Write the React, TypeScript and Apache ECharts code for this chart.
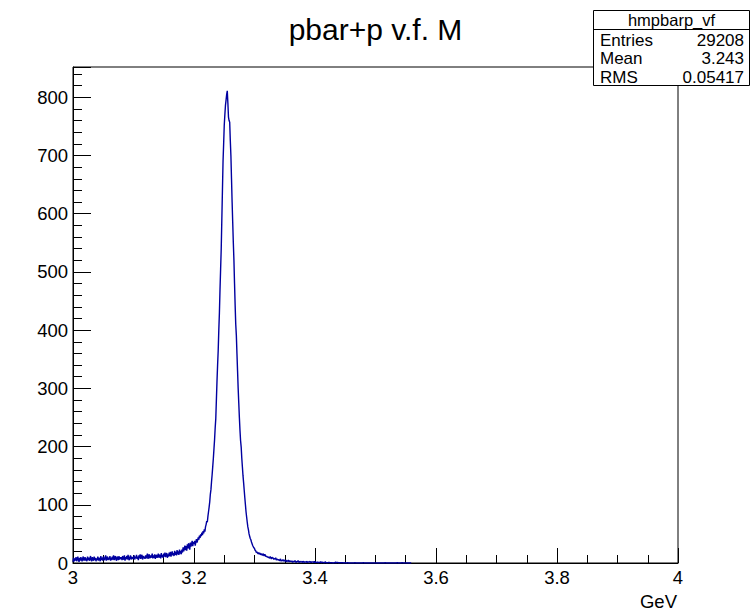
import React, { useEffect, useRef } from "react";
import * as echarts from "echarts";

// Histogram "hmpbarp_vf": 1000 bins from 3.0 to 4.0 GeV; bins beyond 3.56 are empty
const binLow = 3.0;
const binWidth = 0.001;
const counts: number[] = [
  // 3.00
  2, 9, 3, 8, 4, 10, 3, 6, 11, 5, 2, 9, 4, 10, 6, 3, 8, 11, 4, 7,
  // 3.02
  10, 4, 8, 3, 11, 5, 9, 4, 7, 12, 5, 3, 10, 6, 4, 11, 5, 9, 3, 8,
  // 3.04
  5, 11, 4, 9, 7, 3, 12, 5, 9, 4, 11, 6, 5, 10, 13, 4, 8, 11, 5, 9,
  // 3.06
  6, 12, 4, 9, 5, 11, 6, 13, 5, 9, 12, 6, 4, 11, 8, 5, 12, 6, 10, 7,
  // 3.08
  10, 5, 12, 7, 6, 13, 4, 10, 7, 12, 6, 14, 7, 5, 10, 13, 6, 11, 7, 10,
  // 3.10
  7, 13, 6, 11, 8, 14, 7, 11, 5, 13, 8, 15, 7, 11, 14, 6, 12, 8, 11, 7,
  // 3.12
  13, 8, 12, 16, 7, 11, 15, 8, 13, 9, 12, 16, 8, 13, 9, 15, 7, 12, 14, 9,
  // 3.14
  12, 16, 9, 14, 13, 8, 17, 10, 14, 9, 16, 11, 18, 10, 14, 17, 9, 15, 11, 18,
  // 3.16
  12, 19, 11, 16, 20, 13, 17, 12, 21, 14, 19, 13, 22, 15, 20, 14, 23, 16, 21, 15,
  // 3.18
  23, 18, 27, 20, 25, 30, 22, 29, 21, 32, 25, 34, 27, 23, 35, 28, 33, 38, 29, 36,
  // 3.20
  33, 38, 30, 36, 41, 35, 39, 44, 40, 47, 43, 49, 46, 52, 48, 55, 51, 58, 54, 62,
  // 3.22
  66, 72, 70, 80, 88, 96, 105, 118, 126, 140, 152, 166, 180, 196, 212, 232, 248, 280, 312, 340,
  // 3.24
  365, 400, 430, 470, 505, 540, 590, 640, 690, 720, 752, 770, 786, 795, 805, 811, 790, 766, 760, 757,
  // 3.26
  726, 700, 660, 620, 585, 550, 520, 480, 443, 410, 391, 360, 330, 300, 275, 250, 228, 210, 199, 180,
  // 3.28
  165, 150, 138, 125, 112, 100, 88, 79, 70, 62, 57, 50, 46, 42, 40, 36, 33, 30, 28, 26,
  // 3.30
  25, 22, 21, 18, 19, 17, 16, 18, 15, 17, 14, 16, 15, 13, 16, 14, 12, 15, 13, 11,
  // 3.32
  12, 10, 11, 9, 10, 8, 11, 9, 7, 10, 8, 9, 6, 8, 7, 9, 5, 7, 6, 5,
  // 3.34
  6, 4, 5, 7, 3, 5, 4, 6, 3, 5, 4, 3, 5, 2, 4, 3, 5, 2, 4, 3,
  // 3.36
  3, 2, 4, 1, 3, 2, 3, 4, 2, 1, 3, 2, 4, 2, 1, 3, 2, 2, 3, 1,
  // 3.38
  2, 3, 1, 2, 2, 1, 3, 2, 1, 2, 2, 3, 1, 2, 1, 2, 2, 1, 1, 3,
  // 3.40
  1, 2, 1, 1, 2, 0, 1, 1, 2, 1, 0, 2, 1, 1, 0, 1, 2, 1, 0, 1,
  // 3.42
  1, 0, 1, 1, 0, 0, 1, 0, 1, 0, 0, 1, 0, 0, 2, 0, 1, 1, 0, 1,
  // 3.44
  0, 1, 0, 1, 0, 1, 0, 0, 0, 1, 0, 0, 0, 0, 1, 0, 0, 0, 0, 0,
  // 3.46
  0, 0, 0, 0, 0, 0, 1, 0, 0, 0, 0, 0, 0, 0, 0, 0, 0, 0, 0, 1,
  // 3.48
  0, 0, 0, 0, 0, 0, 0, 0, 0, 0, 0, 0, 0, 0, 0, 0, 0, 0, 0, 0,
  // 3.50
  0, 0, 0, 0, 0, 0, 0, 0, 0, 0, 0, 0, 0, 0, 0, 0, 1, 0, 0, 0,
  // 3.52
  0, 0, 0, 0, 0, 0, 0, 0, 0, 0, 0, 0, 0, 0, 0, 0, 1, 0, 0, 0,
  // 3.54
  0, 0, 0, 0, 1, 0, 0, 0, 0, 0, 0, 0, 0, 0, 0, 0, 0, 0, 0, 0,
];

const xRange = [3, 4];
const yMax = 852;
const title = "pbar+p v.f. M";
const xAxisTitle = "GeV";
const statName = "hmpbarp_vf";
const statLabels = ["Entries", "Mean", "RMS"];
const statValues = ["29208", "3.243", "0.05417"];

const FONT = "'Liberation Sans', Arial, Helvetica, sans-serif";

export default function App() {
  const ref = useRef<HTMLDivElement>(null);
  useEffect(() => {
    if (!ref.current) return;
    const chart = echarts.init(ref.current, undefined, { renderer: "svg" });

    const data: number[][] = counts.map((c, i) => [binLow + binWidth * i, c]);
    data.push([binLow + binWidth * counts.length, counts[counts.length - 1]]);

    const left = 73, right = 74, top = 67, bottom = 47;

    const statGraphics: any[] = [
      {
        type: "rect",
        shape: { x: 593.5, y: 10.5, width: 156, height: 75 },
        style: { fill: "#fff", stroke: "#000", lineWidth: 1 },
        z: 100,
      },
      {
        type: "line",
        shape: { x1: 593.5, y1: 29.5, x2: 749.5, y2: 29.5 },
        style: { stroke: "#000", lineWidth: 1 },
        z: 101,
      },
      {
        type: "text",
        x: 671.5,
        y: 19.5,
        style: { text: statName, font: `16.5px ${FONT}`, fill: "#000", align: "center", verticalAlign: "middle" },
        z: 101,
      },
    ];
    const rowY = [40, 58.5, 77.5];
    statLabels.forEach((lab, i) => {
      statGraphics.push({
        type: "text",
        x: 600,
        y: rowY[i],
        style: { text: lab, font: `17px ${FONT}`, fill: "#000", align: "left", verticalAlign: "middle" },
        z: 101,
      });
      statGraphics.push({
        type: "text",
        x: 744,
        y: rowY[i],
        style: { text: statValues[i], font: `17px ${FONT}`, fill: "#000", align: "right", verticalAlign: "middle" },
        z: 101,
      });
    });

    chart.setOption({
      animation: false,
      backgroundColor: "#fff",
      grid: {
        left, right, top, bottom,
        show: true,
        borderColor: "#000",
        borderWidth: 1,
        backgroundColor: "transparent",
      },
      xAxis: [
        {
          type: "value",
          min: xRange[0],
          max: xRange[1],
          interval: 0.2,
          position: "bottom",
          axisLine: { show: true, onZero: false, lineStyle: { color: "#000", width: 1 } },
          axisTick: { show: true, inside: true, length: 15, lineStyle: { color: "#000", width: 1 } },
          axisLabel: {
            show: true,
            margin: 5,
            color: "#000",
            fontSize: 18.5,
            fontFamily: FONT,
            formatter: (v: number) => String(+v.toFixed(1)),
          },
          splitLine: { show: false },
        },
        {
          type: "value",
          min: xRange[0],
          max: xRange[1],
          interval: 0.05,
          position: "bottom",
          offset: 0,
          axisLine: { show: false },
          axisTick: { show: true, inside: true, length: 8, lineStyle: { color: "#000", width: 1 } },
          axisLabel: { show: false },
          splitLine: { show: false },
        },
      ],
      yAxis: [
        {
          type: "value",
          min: 0,
          max: yMax,
          interval: 100,
          position: "left",
          axisLine: { show: true, onZero: false, lineStyle: { color: "#000", width: 1 } },
          axisTick: { show: true, inside: true, length: 18, lineStyle: { color: "#000", width: 1 } },
          axisLabel: {
            show: true,
            margin: 5,
            color: "#000",
            fontSize: 18.5,
            fontFamily: FONT,
            formatter: (v: number) => (v % 100 === 0 ? String(v) : ""),
          },
          splitLine: { show: false },
        },
        {
          type: "value",
          min: 0,
          max: yMax,
          interval: 20,
          position: "left",
          offset: 0,
          axisLine: { show: false },
          axisTick: { show: true, inside: true, length: 9, lineStyle: { color: "#000", width: 1 } },
          axisLabel: { show: false },
          splitLine: { show: false },
        },
      ],
      series: [
        {
          type: "line",
          step: "end",
          xAxisIndex: 0,
          yAxisIndex: 0,
          data,
          showSymbol: false,
          symbol: "none",
          lineStyle: { color: "#0000a0", width: 1.4 },
          z: 5,
        },
      ],
      graphic: [
        {
          type: "text",
          x: 375.5,
          y: 29,
          style: { text: title, font: `30px ${FONT}`, fill: "#000", align: "center", verticalAlign: "middle" },
        },
        {
          type: "text",
          x: 677,
          y: 601,
          style: { text: xAxisTitle, font: `18.5px ${FONT}`, fill: "#000", align: "right", verticalAlign: "middle" },
        },
        ...statGraphics,
      ],
    });
    return () => chart.dispose();
  }, []);
  return (
    <div
      ref={ref}
      style={{ position: "absolute", left: 0, top: 0, width: 752, height: 610 }}
    />
  );
}
